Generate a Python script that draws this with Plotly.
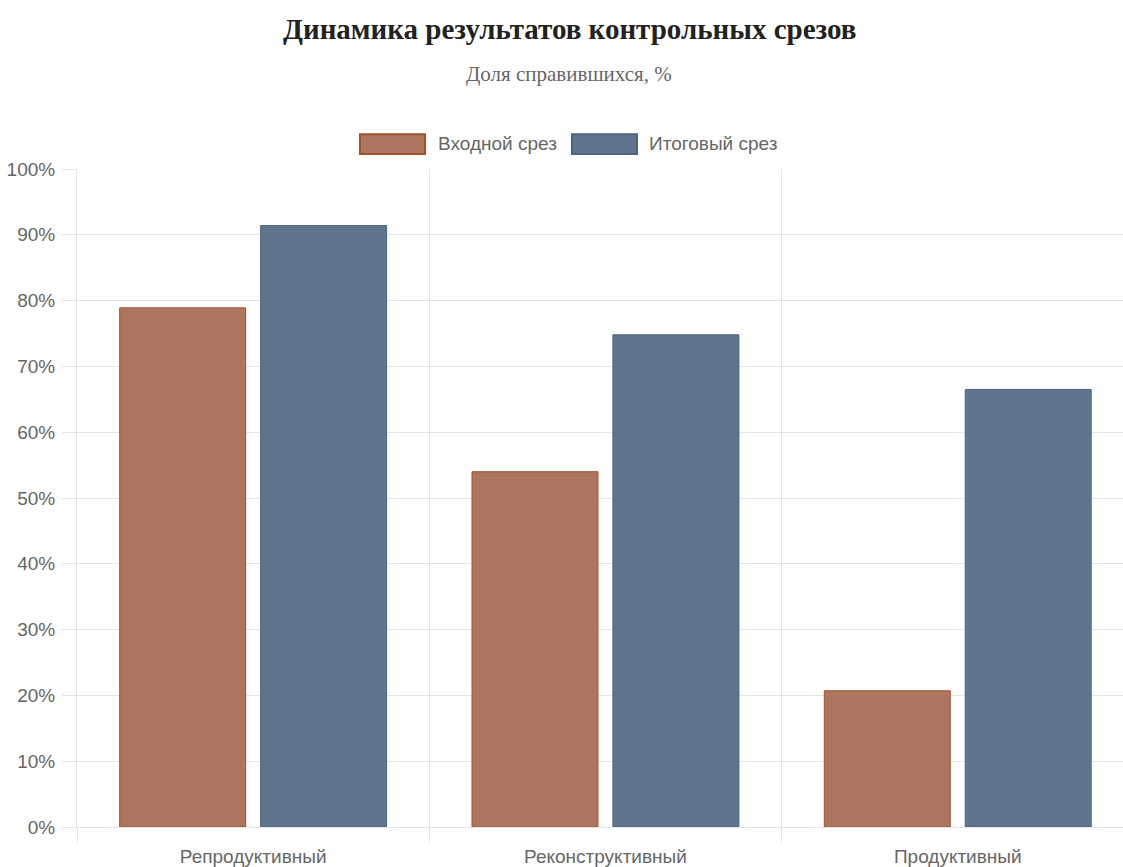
import plotly.graph_objects as go

categories = ["Репродуктивный", "Реконструктивный", "Продуктивный"]
series_names = ["Входной срез", "Итоговый срез"]
input_values = [78.9, 54.0, 20.7]
final_values = [91.4, 74.8, 66.5]
y_ticks = list(range(0, 101, 10))
y_tick_labels = [f"{v}%" for v in y_ticks]

fill_colors = ["rgb(173,117,95)", "rgb(96,116,141)"]
line_colors = ["rgb(160,82,45)", "rgb(78,99,130)"]

W, H = 1123, 867
L, R, T, B = 77, 0, 169, 37
PW = W - L - R
PH = H - T - B

def px(x):
    return (x - L) / PW

def py(y):
    return (H - B - y) / PH

fig = go.Figure()
for name, vals, fc, lc in zip(series_names, [input_values, final_values], fill_colors, line_colors):
    fig.add_trace(go.Bar(
        x=categories, y=vals, name=name,
        marker=dict(color=fc, line=dict(color=lc, width=1)),
        showlegend=False,
        hovertemplate="%{x}: %{y}%<extra>" + name + "</extra>",
    ))

axis_font = dict(family="Liberation Sans, Arial, sans-serif", size=19, color="#666")

fig.update_layout(
    width=W, height=H,
    margin=dict(l=L, r=R, t=T, b=B),
    paper_bgcolor="white", plot_bgcolor="white",
    barmode="group", bargap=0.2, bargroupgap=0.106,
    xaxis=dict(
        type="category", range=[-0.5, -0.5 + PW / 352.3],
        tickson="boundaries", showgrid=True, gridcolor="rgba(0,0,0,0.1)", gridwidth=1,
        ticks="outside", ticklen=14, tickcolor="rgba(0,0,0,0.1)",
        ticklabelstandoff=12,
        showline=True, linecolor="rgba(0,0,0,0.1)",
        tickfont=axis_font, zeroline=False,
    ),
    yaxis=dict(
        range=[0, 100], tickvals=y_ticks, ticktext=y_tick_labels,
        showgrid=True, gridcolor="rgba(0,0,0,0.1)", gridwidth=1,
        ticks="outside", ticklen=14, tickcolor="rgba(0,0,0,0.1)",
        ticklabelstandoff=3,
        showline=True, linecolor="rgba(0,0,0,0.1)",
        tickfont=axis_font, zeroline=False,
    ),
    font=dict(family="Liberation Sans, Arial, sans-serif"),
)

annotations = [
    dict(text="<b>Динамика результатов контрольных срезов</b>", x=px(569), y=py(28),
         font=dict(family="Liberation Serif, Times New Roman, serif", size=29, color="#222")),
    dict(text="Доля справившихся, %", x=px(569), y=py(74),
         font=dict(family="Liberation Serif, Times New Roman, serif", size=21, color="#666")),
]
legend_items = [(360, 436), (572, 647)]
shapes = []
for (bx, tx), name, fc, lc in zip(legend_items, series_names, fill_colors, line_colors):
    shapes.append(dict(type="rect", xref="paper", yref="paper",
                       x0=px(bx), x1=px(bx + 65), y0=py(154), y1=py(134),
                       fillcolor=fc, line=dict(color=lc, width=2)))
    annotations.append(dict(text=name, x=px(tx), y=py(143), xanchor="left",
                            font=dict(family="Liberation Sans, Arial, sans-serif", size=19, color="#666")))
for a in annotations:
    a.update(xref="paper", yref="paper", showarrow=False)
    a.setdefault("xanchor", "center")
    a.setdefault("yanchor", "middle")
fig.update_layout(annotations=annotations, shapes=shapes)

fig.write_html("out.html")
